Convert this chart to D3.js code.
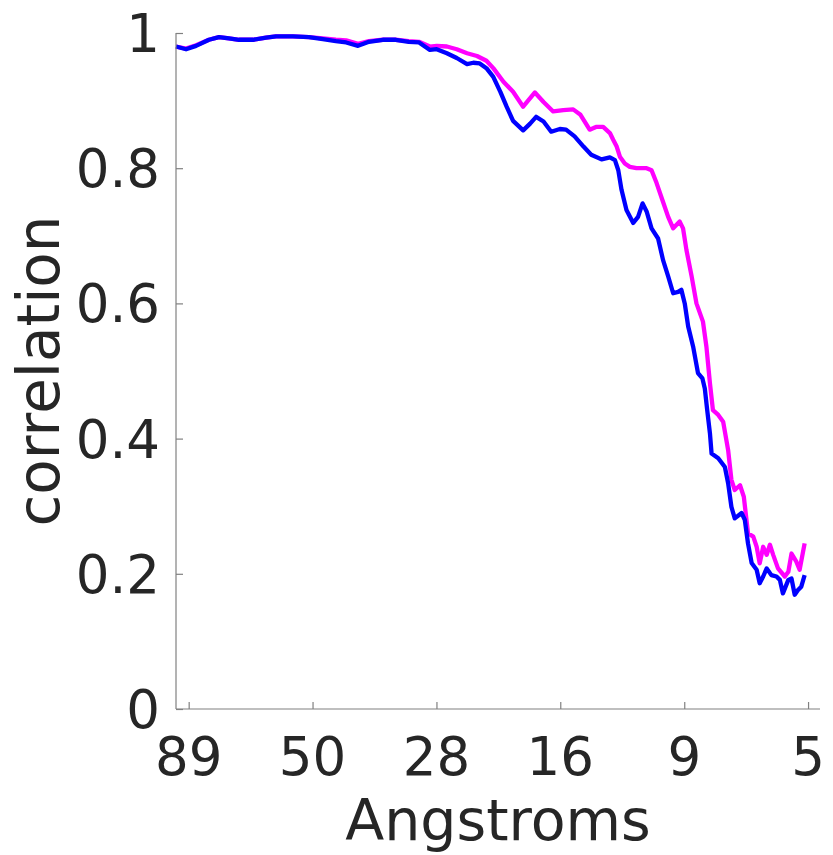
<!DOCTYPE html>
<html>
<head>
<meta charset="utf-8">
<script src="https://cdn.jsdelivr.net/npm/d3@7"></script>
<style>
    body { margin: 0; background: #fff; }
    svg text { font-family: "DejaVu Sans", sans-serif; fill: #262626; }
</style>
</head>
<body>
<svg id="chart" width="833" height="855"></svg>
<script>
// resolution (Angstroms) of each sample, and the correlation read at it
var blueRes = [94.4, 90.1, 86.0, 81.0, 77.3, 73.8, 70.4, 66.0, 62.1, 59.3, 54.8, 50.9, 47.7, 44.9, 42.8,
    40.5, 38.5, 36.1, 34.0, 32.0, 30.5, 29.0, 28.1, 26.8, 25.6, 24.4, 23.7, 23.0, 22.3, 21.6,
    20.9, 20.3, 19.7, 18.8, 18.2, 17.7, 17.1, 16.5, 15.85, 15.4, 14.8, 14.2, 13.7, 13.06, 12.56,
    12.27, 12.08, 11.90, 11.63, 11.27, 11.02, 10.79, 10.59, 10.35, 10.04, 9.81, 9.58, 9.36, 9.15,
    9.01, 8.87, 8.73, 8.53, 8.34, 8.17, 8.08, 7.99, 7.89, 7.83, 7.59, 7.36, 7.25, 7.14, 7.03,
    6.81, 6.71, 6.61, 6.50, 6.35, 6.26, 6.16, 6.06, 5.93, 5.79, 5.70, 5.62, 5.48, 5.40, 5.32,
    5.24, 5.16, 5.08];
var blueCorr = [0.980, 0.976, 0.981, 0.990, 0.994, 0.992, 0.990, 0.990, 0.993, 0.995, 0.995, 0.994, 0.991, 0.988, 0.986,
    0.981, 0.987, 0.990, 0.990, 0.987, 0.986, 0.975, 0.976, 0.970, 0.963, 0.954, 0.956, 0.955, 0.948, 0.935,
    0.913, 0.891, 0.870, 0.856, 0.866, 0.876, 0.869, 0.854, 0.858, 0.857, 0.847, 0.832, 0.820, 0.813, 0.816,
    0.812, 0.797, 0.768, 0.738, 0.719, 0.728, 0.748, 0.736, 0.711, 0.696, 0.664, 0.640, 0.615, 0.617,
    0.620, 0.600, 0.566, 0.536, 0.497, 0.489, 0.474, 0.442, 0.408, 0.378, 0.371, 0.358, 0.334, 0.299, 0.282,
    0.290, 0.280, 0.245, 0.216, 0.206, 0.186, 0.196, 0.208, 0.198, 0.196, 0.191, 0.171, 0.191, 0.193, 0.169,
    0.176, 0.181, 0.198];

var magentaRes = [94.4, 90.1, 86.0, 81.0, 77.3, 73.8, 70.4, 66.0, 62.1, 59.3, 54.8, 50.9, 47.7, 44.9, 42.8,
    40.5, 38.5, 36.1, 34.0, 32.0, 30.5, 29.0, 28.1, 26.8, 25.6, 24.4, 23.3, 22.3, 21.6, 20.6,
    19.7, 18.8, 17.8, 17.1, 16.35, 15.6, 14.9, 14.4, 13.8, 13.4, 12.96, 12.56, 12.37, 12.17, 11.99,
    11.72, 11.45, 11.10, 10.59, 10.35, 10.11, 9.81, 9.58, 9.36, 9.08, 8.94, 8.80, 8.59, 8.40,
    8.15, 8.02, 7.89, 7.78, 7.59, 7.42, 7.25, 7.14, 7.03, 6.86, 6.74, 6.61, 6.45, 6.35, 6.26,
    6.16, 6.06, 5.97, 5.88, 5.75, 5.57, 5.48, 5.40, 5.28, 5.20, 5.08];
var magentaCorr = [0.980, 0.977, 0.982, 0.990, 0.994, 0.992, 0.990, 0.990, 0.993, 0.995, 0.995, 0.994, 0.992, 0.990, 0.989,
    0.984, 0.988, 0.990, 0.990, 0.988, 0.987, 0.980, 0.981, 0.980, 0.976, 0.970, 0.966, 0.959, 0.948, 0.928,
    0.913, 0.891, 0.912, 0.898, 0.884, 0.886, 0.887, 0.879, 0.857, 0.861, 0.861, 0.852, 0.842, 0.832, 0.817,
    0.807, 0.802, 0.800, 0.800, 0.797, 0.778, 0.750, 0.728, 0.711, 0.721, 0.711, 0.679, 0.640, 0.600,
    0.573, 0.536, 0.482, 0.442, 0.435, 0.425, 0.383, 0.339, 0.324, 0.331, 0.314, 0.260, 0.255, 0.240, 0.2155,
    0.240, 0.228, 0.243, 0.228, 0.208, 0.196, 0.203, 0.230, 0.218, 0.206, 0.245];

// axis limits and ticks (x ticks are geometric steps from 89 to 5, labelled rounded)
var xLimits = [94.4, 4.73];
var yLimits = [0, 1];
var xTicks = [89, 50.04, 28.13, 15.82, 8.89, 5];
var yTicks = [0, 0.2, 0.4, 0.6, 0.8, 1];

(function(){
    var svg = d3.select('#chart');
    var left = 176, right = 820, top = 33, bottom = 709;
    var tickLen = 7;
    var axisColor = '#808080';

    var x = d3.scaleLog().domain(xLimits).range([left, right]);
    var y = d3.scaleLinear().domain(yLimits).range([bottom, top]);

    function pairs(res, corr) {
        return res.map(function(r, i) { return [r, corr[i]]; });
    }

    var line = d3.line()
        .x(function(d) { return x(d[0]); })
        .y(function(d) { return y(d[1]); });

    // magenta first so blue sits on top where they overlap
    svg.append('path')
        .datum(pairs(magentaRes, magentaCorr))
        .attr('d', line)
        .attr('fill', 'none')
        .attr('stroke', '#ff00ff')
        .attr('stroke-width', 4.3)
        .attr('stroke-linejoin', 'round');

    svg.append('path')
        .datum(pairs(blueRes, blueCorr))
        .attr('d', line)
        .attr('fill', 'none')
        .attr('stroke', '#0000ff')
        .attr('stroke-width', 4.3)
        .attr('stroke-linejoin', 'round');

    // y axis: ticks point inward like matlab
    var yAxis = d3.axisRight(y)
        .tickValues(yTicks)
        .tickSize(tickLen)
        .tickFormat('');
    var gy = svg.append('g')
        .attr('transform', 'translate(' + left + ',0)')
        .call(yAxis);
    gy.select('.domain').attr('d', 'M0,' + top + 'V' + bottom);

    // x axis
    var xAxis = d3.axisTop(x)
        .tickValues(xTicks)
        .tickSize(tickLen)
        .tickFormat('');
    var gx = svg.append('g')
        .attr('transform', 'translate(0,' + bottom + ')')
        .call(xAxis);
    gx.select('.domain').attr('d', 'M' + left + ',0H' + right);

    svg.selectAll('.domain, .tick line')
        .attr('stroke', axisColor)
        .attr('stroke-width', 1.2);

    // tick labels
    svg.selectAll('.ylab')
        .data(yTicks)
        .enter().append('text')
        .attr('class', 'ylab')
        .attr('x', left - 16)
        .attr('y', function(d) { return y(d); })
        .attr('dy', '0.36em')
        .attr('text-anchor', 'end')
        .style('font-size', '53px')
        .text(function(d) { return d3.format('~g')(d); });

    svg.selectAll('.xlab')
        .data(xTicks)
        .enter().append('text')
        .attr('class', 'xlab')
        .attr('x', function(d) { return x(d); })
        .attr('y', 775)
        .attr('text-anchor', 'middle')
        .style('font-size', '53px')
        .text(function(d) { return Math.round(d); });

    // axis titles
    svg.append('text')
        .attr('x', (left + right) / 2)
        .attr('y', 840)
        .attr('text-anchor', 'middle')
        .style('font-size', '57px')
        .text('Angstroms');

    svg.append('text')
        .attr('transform', 'translate(59,' + (top + bottom) / 2 + ') rotate(-90)')
        .attr('text-anchor', 'middle')
        .style('font-size', '58px')
        .text('correlation');
})();
</script>
</body>
</html>
